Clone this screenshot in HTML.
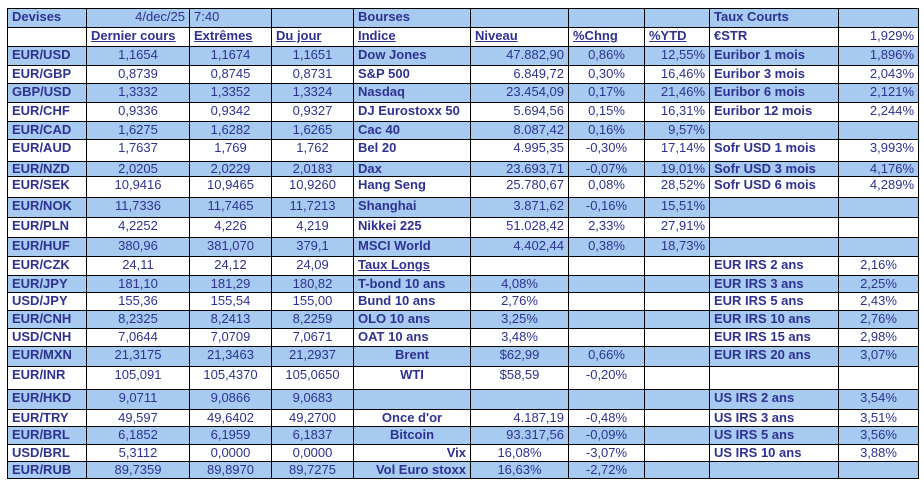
<!DOCTYPE html>
<html><head><meta charset="utf-8"><style>
body{margin:0;background:#fff;width:924px;height:488px;overflow:hidden}
table{position:absolute;left:7px;top:8px;border-collapse:collapse;table-layout:fixed;width:911px;font-family:"Liberation Sans",Arial,sans-serif;font-size:13px;color:#2e3192}
td{border:1px solid #000;padding:1px 4px 0 4px;vertical-align:top;line-height:14px;white-space:nowrap;overflow:hidden}
tr.b td{background:#a6caf0}
.l{text-align:left;font-weight:bold}
.c{text-align:center}
.r{text-align:right}
.u{text-decoration:underline;font-weight:bold}
.bc{text-align:center;font-weight:bold}
.br{text-align:right;font-weight:bold}
</style></head><body>
<table>
<colgroup><col style="width:79px"><col style="width:103px"><col style="width:82px"><col style="width:82px"><col style="width:117px"><col style="width:98px"><col style="width:76px"><col style="width:65px"><col style="width:129px"><col style="width:80px"></colgroup>
<tr class="b" style="height:19px"><td class="l">Devises</td><td class="r">4/dec/25</td><td>7:40</td><td></td><td class="l">Bourses</td><td></td><td></td><td></td><td class="l">Taux Courts</td><td></td></tr>
<tr style="height:19px"><td></td><td class="u">Dernier cours</td><td class="u">Extrêmes</td><td class="u">Du jour</td><td class="u">Indice</td><td class="u">Niveau</td><td class="u">%Chng</td><td class="u">%YTD</td><td class="l">€STR</td><td class="r">1,929%</td></tr>
<tr class="b" style="height:19px"><td class="l">EUR/USD</td><td class="c">1,1654</td><td class="c">1,1674</td><td class="c">1,1651</td><td class="l">Dow Jones</td><td class="r">47.882,90</td><td class="c">0,86%</td><td class="r">12,55%</td><td class="l">Euribor 1 mois</td><td class="r">1,896%</td></tr>
<tr style="height:18px"><td class="l">EUR/GBP</td><td class="c">0,8739</td><td class="c">0,8745</td><td class="c">0,8731</td><td class="l">S&amp;P 500</td><td class="r">6.849,72</td><td class="c">0,30%</td><td class="r">16,46%</td><td class="l">Euribor 3 mois</td><td class="r">2,043%</td></tr>
<tr class="b" style="height:19px"><td class="l">GBP/USD</td><td class="c">1,3332</td><td class="c">1,3352</td><td class="c">1,3324</td><td class="l">Nasdaq</td><td class="r">23.454,09</td><td class="c">0,17%</td><td class="r">21,46%</td><td class="l">Euribor 6 mois</td><td class="r">2,121%</td></tr>
<tr style="height:19px"><td class="l">EUR/CHF</td><td class="c">0,9336</td><td class="c">0,9342</td><td class="c">0,9327</td><td class="l">DJ Eurostoxx 50</td><td class="r">5.694,56</td><td class="c">0,15%</td><td class="r">16,31%</td><td class="l">Euribor 12 mois</td><td class="r">2,244%</td></tr>
<tr class="b" style="height:18px"><td class="l">EUR/CAD</td><td class="c">1,6275</td><td class="c">1,6282</td><td class="c">1,6265</td><td class="l">Cac 40</td><td class="r">8.087,42</td><td class="c">0,16%</td><td class="r">9,57%</td><td></td><td></td></tr>
<tr style="height:22px"><td class="l">EUR/AUD</td><td class="c">1,7637</td><td class="c">1,769</td><td class="c">1,762</td><td class="l">Bel 20</td><td class="r">4.995,35</td><td class="c">-0,30%</td><td class="r">17,14%</td><td class="l">Sofr USD 1 mois</td><td class="r">3,993%</td></tr>
<tr class="b" style="height:15px"><td class="l" style="padding-top:0">EUR/NZD</td><td class="c" style="padding-top:0">2,0205</td><td class="c" style="padding-top:0">2,0229</td><td class="c" style="padding-top:0">2,0183</td><td class="l" style="padding-top:0">Dax</td><td class="r" style="padding-top:0">23.693,71</td><td class="c" style="padding-top:0">-0,07%</td><td class="r" style="padding-top:0">19,01%</td><td class="l" style="padding-top:0">Sofr USD 3 mois</td><td class="r" style="padding-top:0">4,176%</td></tr>
<tr style="height:21px"><td class="l">EUR/SEK</td><td class="c">10,9416</td><td class="c">10,9465</td><td class="c">10,9260</td><td class="l">Hang Seng</td><td class="r">25.780,67</td><td class="c">0,08%</td><td class="r">28,52%</td><td class="l">Sofr USD 6 mois</td><td class="r">4,289%</td></tr>
<tr class="b" style="height:20px"><td class="l">EUR/NOK</td><td class="c">11,7336</td><td class="c">11,7465</td><td class="c">11,7213</td><td class="l">Shanghai</td><td class="r">3.871,62</td><td class="c">-0,16%</td><td class="r">15,51%</td><td></td><td></td></tr>
<tr style="height:20px"><td class="l">EUR/PLN</td><td class="c">4,2252</td><td class="c">4,226</td><td class="c">4,219</td><td class="l">Nikkei 225</td><td class="r">51.028,42</td><td class="c">2,33%</td><td class="r">27,91%</td><td></td><td></td></tr>
<tr class="b" style="height:19px"><td class="l">EUR/HUF</td><td class="c">380,96</td><td class="c">381,070</td><td class="c">379,1</td><td class="l">MSCI World</td><td class="r">4.402,44</td><td class="c">0,38%</td><td class="r">18,73%</td><td></td><td></td></tr>
<tr style="height:19px"><td class="l">EUR/CZK</td><td class="c">24,11</td><td class="c">24,12</td><td class="c">24,09</td><td class="u">Taux Longs</td><td></td><td></td><td></td><td class="l">EUR IRS 2 ans</td><td class="c">2,16%</td></tr>
<tr class="b" style="height:17px"><td class="l">EUR/JPY</td><td class="c">181,10</td><td class="c">181,29</td><td class="c">180,82</td><td class="l">T-bond 10 ans</td><td class="c">4,08%</td><td></td><td></td><td class="l">EUR IRS 3 ans</td><td class="c">2,25%</td></tr>
<tr style="height:18px"><td class="l">USD/JPY</td><td class="c">155,36</td><td class="c">155,54</td><td class="c">155,00</td><td class="l">Bund 10 ans</td><td class="c">2,76%</td><td></td><td></td><td class="l">EUR IRS 5 ans</td><td class="c">2,43%</td></tr>
<tr class="b" style="height:18px"><td class="l">EUR/CNH</td><td class="c">8,2325</td><td class="c">8,2413</td><td class="c">8,2259</td><td class="l">OLO 10 ans</td><td class="c">3,25%</td><td></td><td></td><td class="l">EUR IRS 10 ans</td><td class="c">2,76%</td></tr>
<tr style="height:18px"><td class="l">USD/CNH</td><td class="c">7,0644</td><td class="c">7,0709</td><td class="c">7,0671</td><td class="l">OAT 10 ans</td><td class="c">3,48%</td><td></td><td></td><td class="l">EUR IRS 15 ans</td><td class="c">2,98%</td></tr>
<tr class="b" style="height:20px"><td class="l">EUR/MXN</td><td class="c">21,3175</td><td class="c">21,3463</td><td class="c">21,2937</td><td class="bc">Brent</td><td class="c">$62,99</td><td class="c">0,66%</td><td></td><td class="l">EUR IRS 20 ans</td><td class="c">3,07%</td></tr>
<tr style="height:23px"><td class="l">EUR/INR</td><td class="c">105,091</td><td class="c">105,4370</td><td class="c">105,0650</td><td class="bc">WTI</td><td class="c">$58,59</td><td class="c">-0,20%</td><td></td><td></td><td></td></tr>
<tr class="b" style="height:20px"><td class="l">EUR/HKD</td><td class="c">9,0711</td><td class="c">9,0866</td><td class="c">9,0683</td><td></td><td></td><td></td><td></td><td class="l">US IRS 2 ans</td><td class="c">3,54%</td></tr>
<tr style="height:17px"><td class="l">EUR/TRY</td><td class="c">49,597</td><td class="c">49,6402</td><td class="c">49,2700</td><td class="bc">Once d'or</td><td class="r">4.187,19</td><td class="c">-0,48%</td><td></td><td class="l">US IRS 3 ans</td><td class="c">3,51%</td></tr>
<tr class="b" style="height:18px"><td class="l">EUR/BRL</td><td class="c">6,1852</td><td class="c">6,1959</td><td class="c">6,1837</td><td class="bc">Bitcoin</td><td class="r">93.317,56</td><td class="c">-0,09%</td><td></td><td class="l">US IRS 5 ans</td><td class="c">3,56%</td></tr>
<tr style="height:17px"><td class="l">USD/BRL</td><td class="c">5,3112</td><td class="c">0,0000</td><td class="c">0,0000</td><td class="br">Vix</td><td class="c">16,08%</td><td class="c">-3,07%</td><td></td><td class="l">US IRS 10 ans</td><td class="c">3,88%</td></tr>
<tr class="b" style="height:17px"><td class="l">EUR/RUB</td><td class="c">89,7359</td><td class="c">89,8970</td><td class="c">89,7275</td><td class="br">Vol Euro stoxx</td><td class="c">16,63%</td><td class="c">-2,72%</td><td></td><td></td><td></td></tr>
</table>
</body></html>
